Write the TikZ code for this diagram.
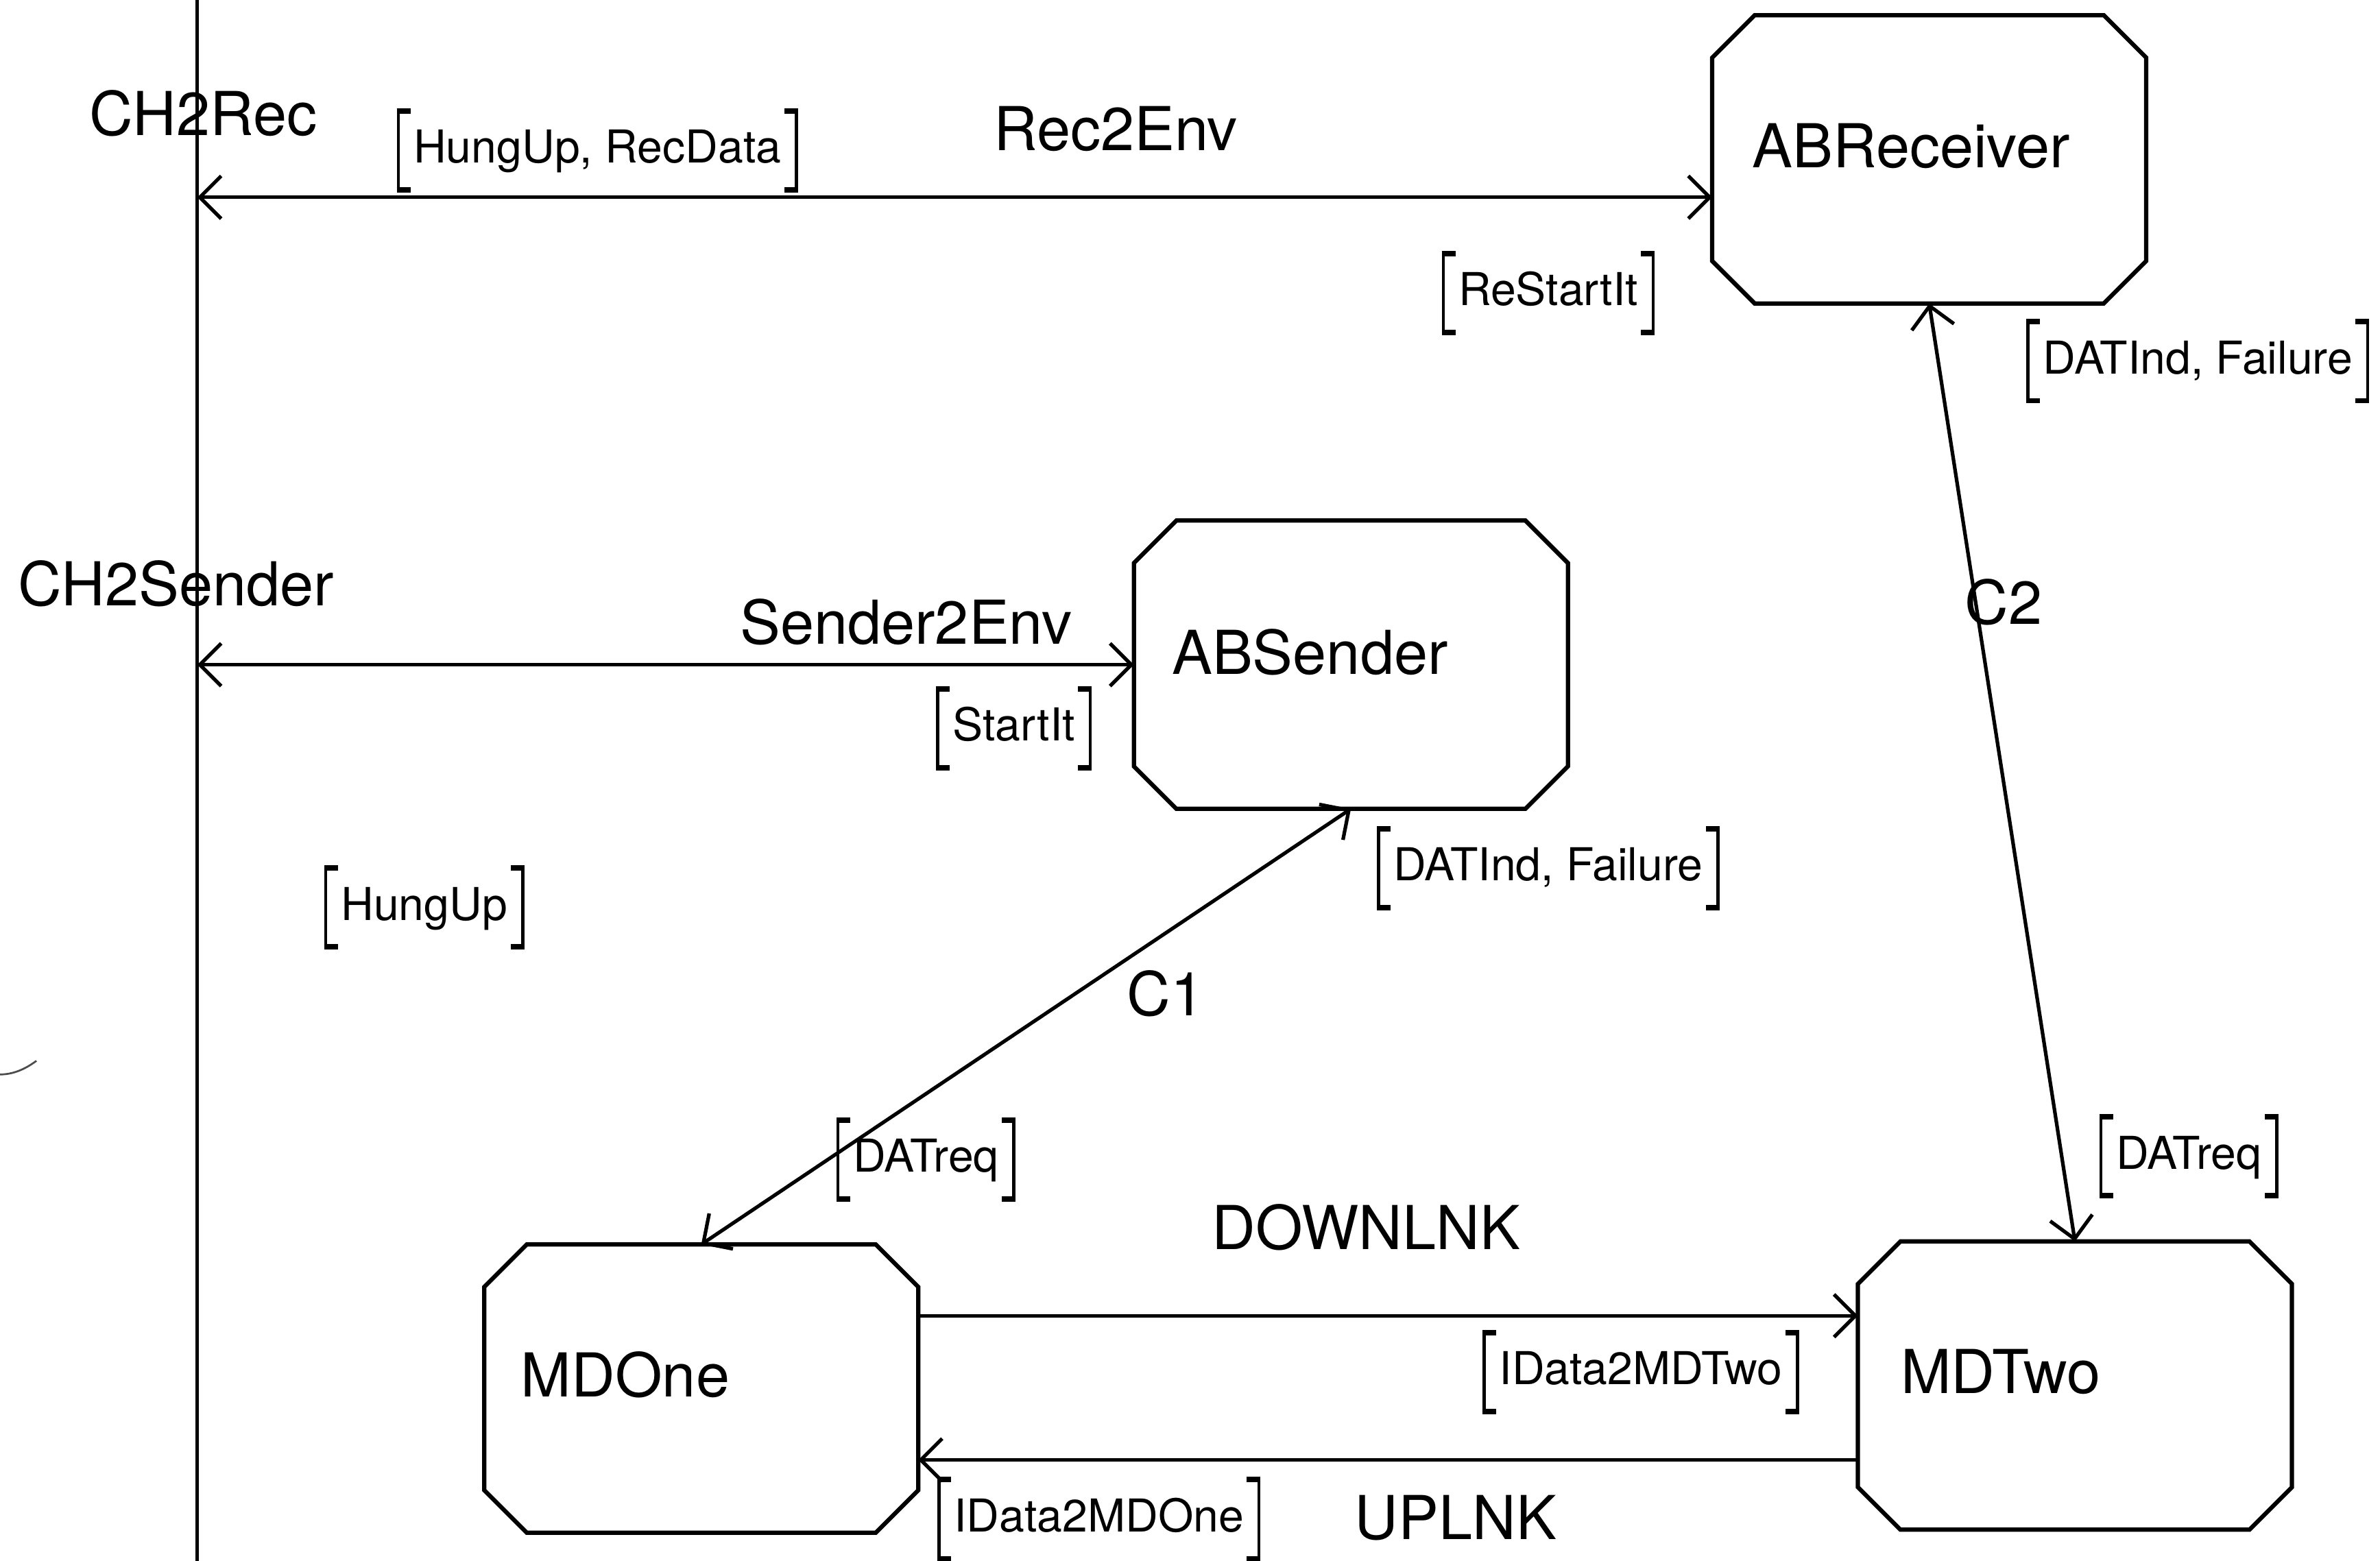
\documentclass[tikz,border=0pt]{standalone}
\usepackage{fontspec}
\setmainfont{TeX Gyre Heros}
\usetikzlibrary{arrows.meta}
\newcommand{\bigfnt}{\fontsize{22.7pt}{27pt}\selectfont}
\newcommand{\sigfnt}{\fontsize{17pt}{20pt}\selectfont}
\begin{document}
\begin{tikzpicture}[x=0.02cm,y=-0.02cm,
  >={Straight Barb[length=8pt,width=16pt]},
  box/.style={minimum width=5.72cm,minimum height=3.8cm,inner sep=0pt,outer sep=0pt,draw=none},
  boxline/.style={line width=1.6pt,line join=miter},
  conn/.style={line width=1.35pt},
  lab/.style={font=\bigfnt,inner sep=0pt,text height=16.3pt,text depth=0pt},
  sig/.style={font=\sigfnt,inner xsep=0.2cm,inner ysep=0pt,outer sep=0pt,text height=12.2pt,text depth=2.8pt,minimum height=1.04cm},
  brk/.style={line width=1.2pt},
  brktick/.style={line width=2pt}]
\useasboundingbox (0,0) rectangle (1568,1028.6);

% environment frame line
\coordinate (envtop) at (130,0);
\coordinate (envbot) at (130,1028.6);
\draw[conn] (envtop) -- (envbot);
\coordinate (r2e) at (130,130);
\coordinate (s2e) at (130,438);

% blocks
\node[box] (ABR) at (1271,105) {};
\node[box] (ABS) at (890,438) {};
\node[box] (MDO) at (462,915) {};
\node[box] (MDT) at (1367,913) {};
\foreach \n in {ABR,ABS,MDO,MDT}{
  \draw[boxline] ([xshift=0.56cm]\n.north west) -- ([xshift=-0.56cm]\n.north east)
    -- ([yshift=-0.56cm]\n.north east) -- ([yshift=0.56cm]\n.south east)
    -- ([xshift=-0.56cm]\n.south east) -- ([xshift=0.56cm]\n.south west)
    -- ([yshift=0.56cm]\n.south west) -- ([yshift=-0.56cm]\n.north west) -- cycle;
}
\node[lab] (tABR) at (1259,96) {ABReceiver};
\node[lab] (tABS) at (863,430) {ABSender};
\node[lab] (tMDO) at (412,906) {MDOne};
\node[lab] (tMDT) at (1318,904) {MDTwo};

% channel names
\node[lab] (lCH2Rec) at (134,75) {CH2Rec};
\node[lab] (lRec2Env) at (735,85) {Rec2Env};
\node[lab] (lCH2Sender) at (116,385) {CH2Sender};
\node[lab] (lSender2Env) at (597,410) {Sender2Env};
\node[lab] (lC1) at (768,655) {C1};
\node[lab] (lC2) at (1320,397) {C2};
\node[lab] (lDOWN) at (900,809) {DOWNLNK};
\node[lab] (lUP) at (959,1000) {UPLNK};

% connectors
\draw[conn,<->] (r2e) -- (r2e -| ABR.west);
\draw[conn,<->] (s2e) -- (ABS.west);
\draw[conn,<->] (MDO.north) -- (ABS.south);
\draw[conn,<->] (ABR.south) -- (MDT.north);
\draw[conn,->] ([yshift=0.96cm]MDO.east) -- ([yshift=0.96cm]MDO.east -| MDT.west);
\draw[conn,->] ([yshift=-0.98cm]MDT.west) -- ([yshift=-0.98cm]MDT.west -| MDO.east);

% signal lists
\node[sig] (s1) at (393.5,99) {HungUp, RecData};
\node[sig] (s2) at (1020,193) {ReStartIt};
\node[sig] (s3) at (1448,238) {DATInd, Failure};
\node[sig] (s4) at (668,480) {StartIt};
\node[sig] (s5) at (1020,572) {DATInd, Failure};
\node[sig] (s6) at (279.5,598) {HungUp};
\node[sig] (s7) at (610,764) {DATreq};
\node[sig] (s8) at (1442,762) {DATreq};
\node[sig] (s9) at (1081,904) {IData2MDTwo};
\node[sig] (s10) at (724,1001) {IData2MDOne};
\foreach \i in {1,...,10}{
  \draw[brk] (s\i.north west) -- (s\i.south west);
  \draw[brk] (s\i.north east) -- (s\i.south east);
  \draw[brktick] ([xshift=-0.6pt]s\i.north west) -- ([xshift=0.16cm]s\i.north west);
  \draw[brktick] ([xshift=-0.6pt]s\i.south west) -- ([xshift=0.16cm]s\i.south west);
  \draw[brktick] ([xshift=0.6pt]s\i.north east) -- ([xshift=-0.16cm]s\i.north east);
  \draw[brktick] ([xshift=0.6pt]s\i.south east) -- ([xshift=-0.16cm]s\i.south east);
}

% stray mark at left edge
\draw[line width=0.7pt,black!70] (0,708) .. controls (8,708) and (16,705) .. (24,699);
\end{tikzpicture}
\end{document}
